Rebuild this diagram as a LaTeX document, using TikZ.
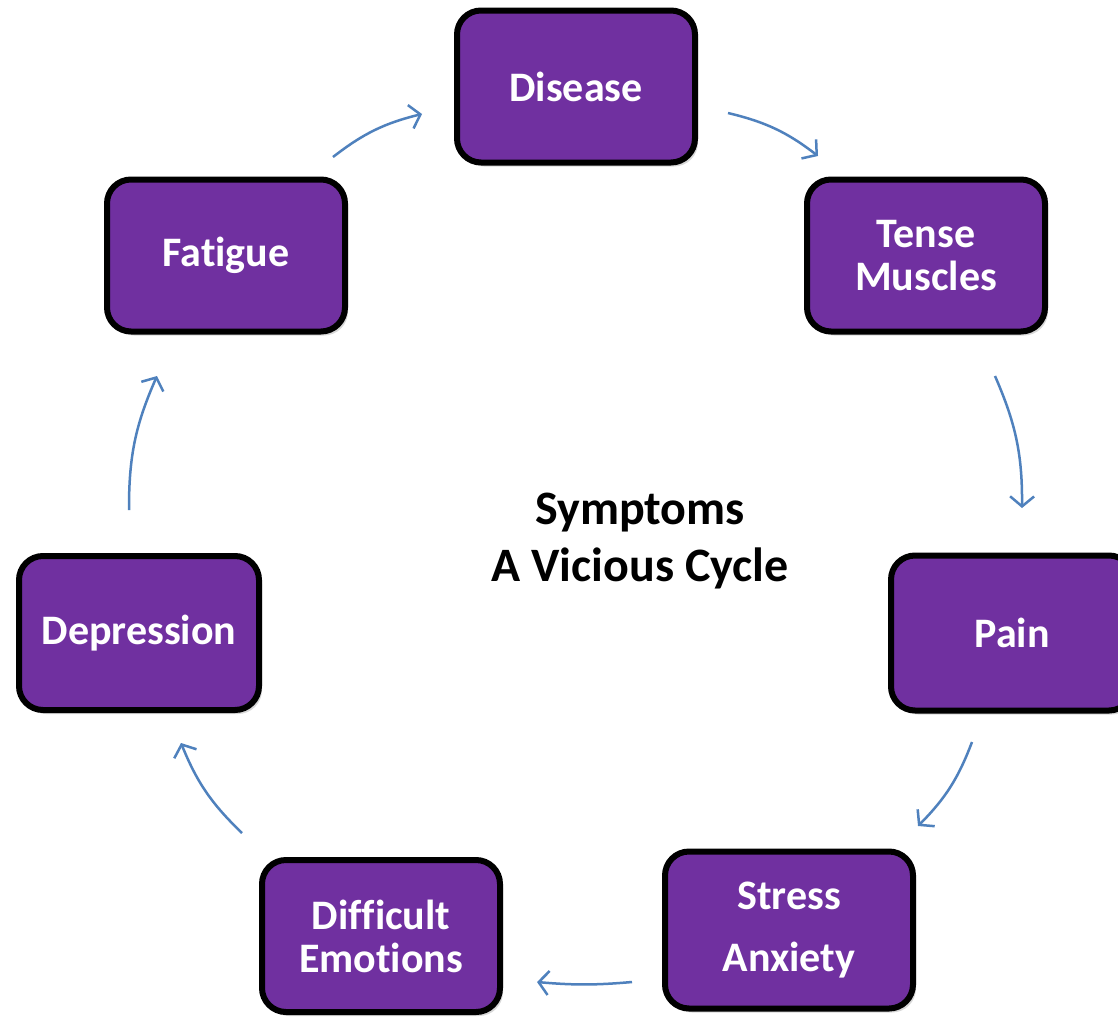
\documentclass[tikz,border=0pt]{standalone}
\usepackage{fontspec}
\setmainfont{Carlito}[Ligatures={NoCommon}]
\usetikzlibrary{arrows.meta,shadows}
\definecolor{boxpurple}{RGB}{112,48,160}
\definecolor{arrowblue}{RGB}{79,129,189}
\begin{document}
\begin{tikzpicture}[x=1pt,y=-1pt,
 box/.style={draw=black, line width=6pt, fill=boxpurple, rounded corners=24pt,
   minimum width=238pt, minimum height=152pt, text=white,
   font=\bfseries\fontsize{42}{43}\selectfont, align=center, inner sep=0pt,
   drop shadow={shadow xshift=3pt, shadow yshift=-4pt, opacity=0.3}},
 cyc/.style={draw=arrowblue, line width=2.5pt, -{Straight Barb[length=10pt,width=24pt]}, bend left=12}]
\useasboundingbox (0,0) rectangle (1118,1017);
\fill[white] (0,0) rectangle (1118,1017);
\node[box] (disease) at (576,86.5) {Disease};
\node[box] (tense) at (926,255.5) {Tense\\Muscles};
\node[box, minimum width=242pt, minimum height=155pt] (pain) at (1012,633) {Pain};
\node[box, minimum width=248pt, minimum height=157pt, font=\bfseries\fontsize{42}{62}\selectfont] (stress) at (789,930) {Stress\\Anxiety};
\node[box] (difficult) at (381,936) {Difficult\\Emotions};
\node[box, minimum width=240pt, minimum height=154pt] (depression) at (139,633) {Depression};
\node[box] (fatigue) at (226,255.5) {Fatigue};
\node[font=\bfseries\fontsize{48}{57}\selectfont, align=center] (title) at (640,541) {Symptoms\\A Vicious Cycle};
\coordinate (a1s) at (333,157); \coordinate (a1e) at (422,114);
\coordinate (a2s) at (728,113); \coordinate (a2e) at (818,156);
\coordinate (a3s) at (995,376); \coordinate (a3e) at (1022,508);
\coordinate (a4s) at (972,742); \coordinate (a4e) at (918,826);
\coordinate (a5s) at (632,982); \coordinate (a5e) at (537,982);
\coordinate (a6s) at (242,833); \coordinate (a6e) at (181,743);
\coordinate (a7s) at (129,510); \coordinate (a7e) at (157,376);
\draw[cyc] (a1s) to (a1e);
\draw[cyc] (a2s) to (a2e);
\draw[cyc] (a3s) to (a3e);
\draw[cyc] (a4s) to (a4e);
\draw[cyc, bend left=5] (a5s) to (a5e);
\draw[cyc] (a6s) to (a6e);
\draw[cyc] (a7s) to (a7e);
\end{tikzpicture}
\end{document}
